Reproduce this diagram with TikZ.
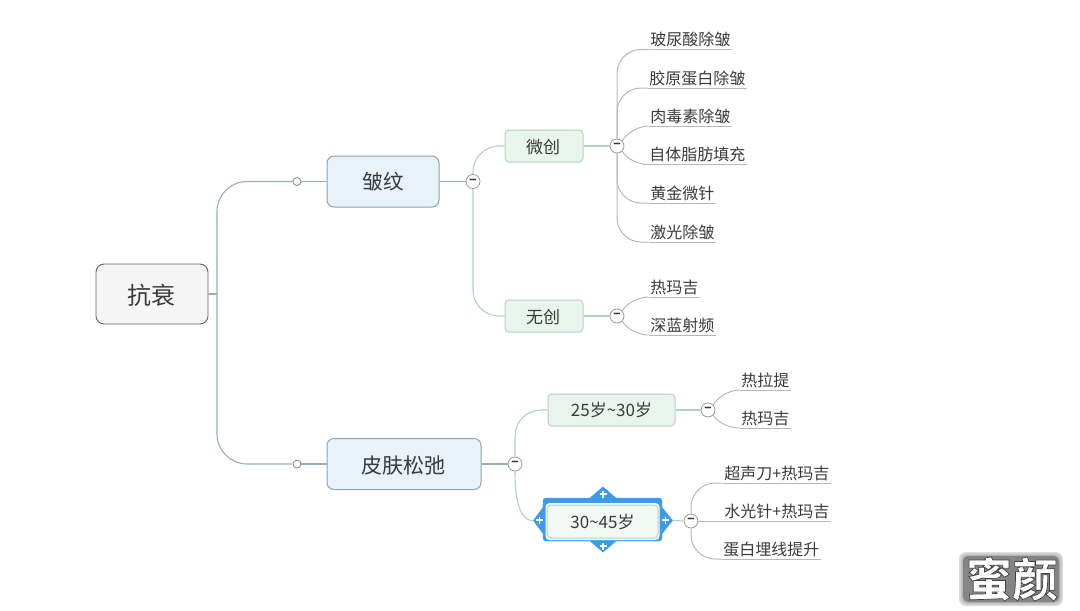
\documentclass[tikz,border=0pt]{standalone}
\usepackage{fontspec}
\setmainfont{Noto Sans CJK SC}
\usetikzlibrary{shapes.geometric}
\definecolor{ink}{HTML}{3A3A3A}
\definecolor{trunkc}{HTML}{93B0BA}
\definecolor{greenc}{HTML}{B0D3BE}
\definecolor{leafc}{HTML}{B8B8B8}
\definecolor{selblue}{HTML}{3F9BE8}
\definecolor{mainfill}{HTML}{EAF2F9}
\definecolor{subfill}{HTML}{E9F5EC}
\definecolor{mainedge}{HTML}{86A6B4}
\newcommand{\lowr}[1]{\raisebox{-1.2pt}[\height][\depth]{#1}}
\tikzset{
  x=1pt,y=-1pt,
  every node/.style={text=ink},
  rootbox/.style={draw=black!60,fill=black!4,line width=0.9pt,rounded corners=8pt,minimum width=112pt,minimum height=60pt,inner sep=0pt,font=\fontsize{24}{24}\selectfont},
  mainbox/.style={draw=mainedge,fill=mainfill,line width=1pt,rounded corners=7pt,minimum height=51pt,inner sep=0pt,font=\fontsize{20.5}{21}\selectfont},
  subbox/.style={draw=greenc,fill=subfill,line width=1pt,rounded corners=4pt,minimum height=32pt,inner sep=0pt,font=\fontsize{17}{17}\selectfont},
  leaf/.style={anchor=south east,inner xsep=1.5pt,inner ysep=2pt,font=\fontsize{16}{16}\selectfont},
  junction/.style={circle,draw=black!40,fill=white,minimum size=14pt,inner sep=0pt,line width=0.8pt,font=\fontsize{12}{12}\bfseries\selectfont},
  dotnode/.style={circle,draw=trunkc!80!black,fill=white,minimum size=8pt,inner sep=0pt,line width=0.8pt},
  trunkline/.style={draw=trunkc,line width=1.1pt},
  greenline/.style={draw=greenc,line width=1.1pt},
  leafline/.style={draw=leafc,line width=1pt},
  tall/.style={rounded corners=24pt},
  handle/.style={diamond,fill=selblue,inner sep=0pt},
  plusmark/.style={white,line width=1.8pt},
}
\begin{document}
\begin{tikzpicture}
\useasboundingbox (0,0) rectangle (1080,611);
% nodes
\node[rootbox] (root) at (152,294) {\lowr{\hspace{-2pt}抗衰}};
\coordinate (t) at (217,294);
\node[mainbox,minimum width=112pt] (wr) at (383,181.5) {皱纹};
\node[mainbox,minimum width=154pt] (sk) at (404,464) {\lowr{\hspace{-2pt}\fontsize{21}{21}\selectfont 皮肤松弛}};
\node[dotnode] (d1) at (297,181.5) {};
\node[dotnode] (d2) at (297,464) {};
\node[junction] (j1) at (473,181.5) {−};
\node[subbox,minimum width=78pt] (wc) at (544,146) {\lowr{\hspace{-2pt}微创}};
\node[subbox,minimum width=78pt] (nc) at (544,316) {\lowr{\hspace{-2pt}无创}};
\node[junction] (j2) at (617,146) {−};
\node[junction] (j3) at (617,316) {−};
\node[leaf] (a1) at (732,49.5) {玻尿酸除皱};
\node[leaf] (a2) at (747,88) {胶原蛋白除皱};
\node[leaf] (a3) at (732,126) {肉毒素除皱};
\node[leaf] (a4) at (747,164.5) {自体脂肪填充};
\node[leaf] (a5) at (716,203) {黄金微针};
\node[leaf] (a6) at (716,242) {激光除皱};
\node[leaf] (b1) at (700,297) {热玛吉};
\node[leaf] (b2) at (716,335) {深蓝射频};
\node[junction] (j4) at (515,464) {−};
\node[subbox,minimum width=127pt,font=\fontsize{17}{17}\selectfont] (y1) at (611.5,410) {25岁\textasciitilde30岁};
% selected topic frame
\node[handle,minimum width=28pt,minimum height=24pt] (ht) at (603,498.5) {};
\node[handle,minimum width=28pt,minimum height=24pt] (hb) at (603,540.5) {};
\node[handle,minimum width=20pt,minimum height=27pt] (hl) at (543,520.5) {};
\node[handle,minimum width=22pt,minimum height=27pt] (hr) at (662,520.5) {};
\node[draw=selblue,fill=selblue,rounded corners=3pt,minimum width=119pt,minimum height=43pt,inner sep=0pt] (frame) at (602.5,519.5) {};
\fill[white,rounded corners=4pt] (545.5,503) rectangle (659.5,540);
\node[subbox,fill=subfill!60!white,minimum width=111pt,minimum height=33pt,font=\fontsize{17}{17}\selectfont] (y2) at (602.5,521.5) {30\textasciitilde45岁};
\node[junction] (j5) at (708,410) {−};
\node[junction] (j6) at (691,521) {−};
\node[leaf] (c1) at (791,390) {热拉提};
\node[leaf] (c2) at (791,428) {热玛吉};
\node[leaf] (e1) at (831,483) {超声刀+热玛吉};
\node[leaf] (e2) at (831,521) {水光针+热玛吉};
\node[leaf] (e3) at (821,559) {蛋白埋线提升};
% handle plus signs
\draw[plusmark] (539.5,520) ++(-3.5,0) -- ++(7,0) ++(-3.5,-3.5) -- ++(0,7);
\draw[plusmark] (665.5,520) ++(-3.5,0) -- ++(7,0) ++(-3.5,-3.5) -- ++(0,7);
\draw[plusmark] (603,494) ++(-3.5,0) -- ++(7,0) ++(-3.5,-3.5) -- ++(0,7);
\draw[plusmark] (603,546) ++(-3.5,0) -- ++(7,0) ++(-3.5,-3.5) -- ++(0,7);
% connectors
\draw[trunkline] (root.east) -- (t);
\draw[trunkline,rounded corners=30pt] (t) |- (d1.west);
\draw[trunkline,rounded corners=30pt] (t) |- (d2.west);
\draw[trunkline] (d1.east) -- (wr.west);
\draw[trunkline] (d2.east) -- (sk.west);
\draw[trunkline] (wr.east) -- (j1.west);
\draw[trunkline] (sk.east) -- (j4.west);
\draw[greenline,rounded corners=26pt] (j1.north) |- (wc.west);
\draw[greenline,rounded corners=26pt] (j1.south) |- (nc.west);
\draw[greenline] (wc.east) -- (j2.west);
\draw[greenline] (nc.east) -- (j3.west);
\draw[greenline,rounded corners=26pt] (j4.north) |- (y1.west);
\draw[greenline] (j4.south) to[out=-90,in=180,looseness=0.8] (hl.west);
\draw[greenline] (y1.east) -- (j5.west);
\draw[greenline] (hr.east) -- (j6.west);
% leaf underlines and branches
\foreach \n in {a1,a2,a3,a4,a5,a6,b1,b2,c1,c2,e1,e2,e3}{
  \draw[leafline] (\n.south west) -- (\n.south east);
}
\draw[leafline,tall] (j2.north) |- (a1.south west);
\draw[leafline,tall] (j2.north) |- (a2.south west);
\draw[leafline] (j2.north east) to[out=60,in=180,looseness=0.8] (a3.south west);
\draw[leafline] (j2.south east) to[out=-60,in=180,looseness=0.8] (a4.south west);
\draw[leafline,tall] (j2.south) |- (a5.south west);
\draw[leafline,tall] (j2.south) |- (a6.south west);
\draw[leafline] (j3.north east) to[out=60,in=180,looseness=0.8] (b1.south west);
\draw[leafline] (j3.south east) to[out=-60,in=180,looseness=0.8] (b2.south west);
\draw[leafline] (j5.north east) to[out=60,in=180,looseness=0.8] (c1.south west);
\draw[leafline] (j5.south east) to[out=-60,in=180,looseness=0.8] (c2.south west);
\draw[leafline,tall] (j6.north) |- (e1.south west);
\draw[leafline] (j6.east) -- (e2.south west);
\draw[leafline,tall] (j6.south) |- (e3.south west);
% watermark
\foreach \g in {4,2.5,1}{
  \fill[black!45,opacity=0.3,rounded corners=7pt] (963-\g,556-\g) rectangle (1059+\g,602+\g);
}
\fill[black!48,rounded corners=5pt] (963,556) rectangle (1059,602);
\node[inner sep=0pt,text=white,font=\fontsize{46}{46}\bfseries\selectfont] (wm) at (1012,579) {\special{pdf:code 2 Tr 0.7 w 0.25 0.25 0.25 RG}蜜颜\special{pdf:code 0 Tr}};
\end{tikzpicture}
\end{document}
